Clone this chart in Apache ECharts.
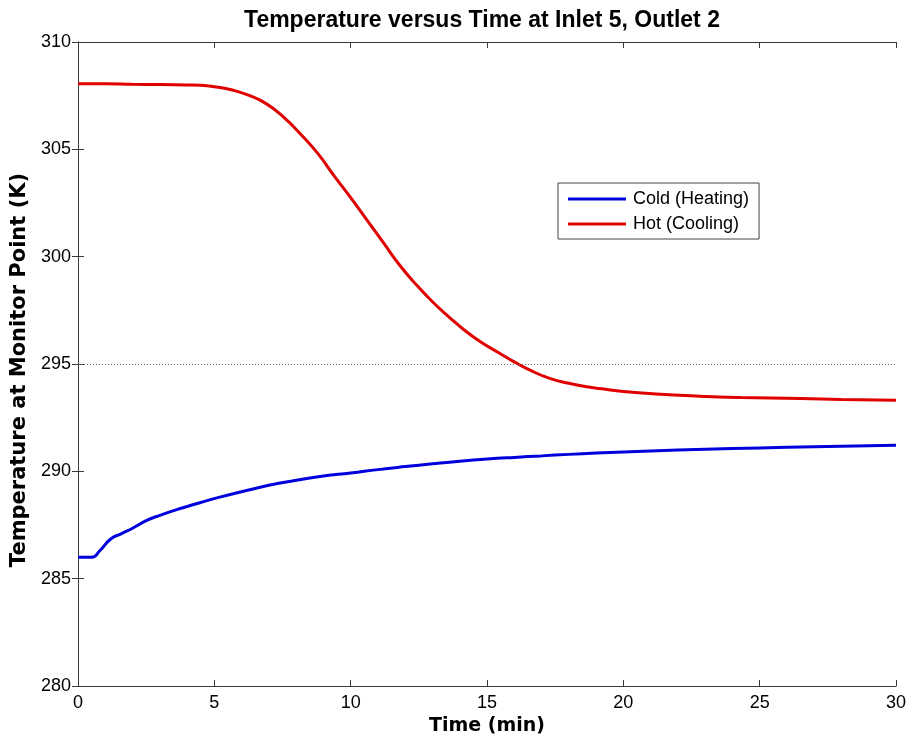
<!DOCTYPE html>
<html>
<head>
<meta charset="utf-8">
<script src="https://cdn.jsdelivr.net/npm/echarts@6/dist/echarts.min.js"></script>
<style>
  html, body { margin: 0; padding: 0; background: #fff; }
  #chart { width: 909px; height: 744px; }
</style>
</head>
<body>
<div id="chart"></div>
<script>
// Monitor point temperatures, inlet 5 / outlet 2
const timeCold = [0, 0.5, 0.8, 1.2, 1.6, 2, 2.5, 3, 3.75, 4.5, 5.2, 6, 7, 8, 9, 10, 11, 12, 13, 14, 15, 16, 17, 18, 19, 20, 22, 24, 26, 28, 30];
const tempCold = [286.0, 286.0, 286.3, 286.85, 287.1, 287.35, 287.7, 287.95, 288.27, 288.55, 288.8, 289.05, 289.35, 289.58, 289.78, 289.92, 290.08, 290.22, 290.35, 290.47, 290.57, 290.65, 290.72, 290.79, 290.85, 290.9, 290.99, 291.06, 291.12, 291.17, 291.22];

const timeHot = [0, 1, 2, 3, 4, 4.5, 5, 5.7, 6.3, 6.9, 7.5, 8.15, 8.8, 9.4, 10, 10.6, 11.2, 11.8, 12.4, 13, 13.6, 14.2, 14.8, 15.4, 16, 16.6, 17.3, 18, 18.6, 19.2, 20, 21.2, 22.8, 24.3, 26.5, 28, 30];
const tempHot = [308.05, 308.05, 308.03, 308.02, 308.0, 307.98, 307.92, 307.75, 307.5, 307.13, 306.55, 305.73, 304.8, 303.75, 302.75, 301.7, 300.65, 299.6, 298.7, 297.9, 297.2, 296.55, 296.0, 295.55, 295.1, 294.7, 294.33, 294.1, 293.95, 293.85, 293.72, 293.6, 293.5, 293.44, 293.39, 293.35, 293.31];

const refLevel = 295;
const seriesNames = ['Cold (Heating)', 'Hot (Cooling)'];
const seriesColors = ['#0000dd', '#e00000'];

const pairs = (xs, ys) => xs.map((x, i) => [x, ys[i]]);

const FONT = '"Liberation Sans", Arial, sans-serif';
const WIDE = '"DejaVu Sans", sans-serif';
const AX = '#3a3a3a';

const chart = echarts.init(document.getElementById('chart'), null, { renderer: 'canvas' });

const boxAxis = {
  axisLine: { show: true, lineStyle: { color: AX, width: 1 } },
  axisTick: { show: true, inside: true, length: 6, lineStyle: { color: AX } },
  axisLabel: { show: false },
  splitLine: { show: false }
};

chart.setOption({
  backgroundColor: '#fff',
  animation: false,
  title: {
    text: 'Temperature versus Time at Inlet 5, Outlet 2',
    left: 477,
    top: 4,
    textAlign: 'center',
    textStyle: { fontFamily: FONT, fontWeight: 'bold', fontSize: 23, color: '#000' }
  },
  legend: {
    data: seriesNames.map(n => ({ name: n, icon: 'rect' })),
    orient: 'vertical',
    left: 558,
    top: 183,
    padding: [7, 10, 6, 10],
    itemGap: 7,
    itemWidth: 58,
    itemHeight: 3,
    borderColor: '#444',
    borderWidth: 1,
    backgroundColor: '#fff',
    textStyle: { fontFamily: FONT, fontSize: 18, color: '#000', padding: [0, 0, 0, 2] }
  },
  grid: { left: 78, right: 13, top: 42, bottom: 58, containLabel: false },
  xAxis: [
    {
      type: 'value', min: 0, max: 30, interval: 5, position: 'bottom',
      name: 'Time (min)', nameLocation: 'middle', nameGap: 23,
      nameTextStyle: { fontFamily: WIDE, fontWeight: 'bold', fontSize: 19, color: '#000' },
      axisLine: { show: true, lineStyle: { color: AX, width: 1 } },
      axisTick: { show: true, inside: true, length: 6, lineStyle: { color: AX } },
      axisLabel: { fontFamily: FONT, fontSize: 18, color: '#000', margin: 8 },
      splitLine: { show: false }
    },
    Object.assign({}, boxAxis, { type: 'value', min: 0, max: 30, interval: 5, position: 'top' })
  ],
  yAxis: [
    {
      type: 'value', min: 280, max: 310, interval: 5, position: 'left',
      name: 'Temperature at Monitor Point (K)', nameLocation: 'middle', nameGap: 42,
      nameTextStyle: { fontFamily: WIDE, fontWeight: 'bold', fontSize: 21, color: '#000', padding: [0, 12, 0, 0] },
      axisLine: { show: true, lineStyle: { color: AX, width: 1 } },
      axisTick: { show: true, inside: true, length: 6, lineStyle: { color: AX } },
      axisLabel: { fontFamily: FONT, fontSize: 18, color: '#000', margin: 7 },
      splitLine: { show: false }
    },
    Object.assign({}, boxAxis, { type: 'value', min: 280, max: 310, interval: 5, position: 'right' })
  ],
  series: [
    {
      name: seriesNames[0],
      type: 'line',
      data: pairs(timeCold, tempCold),
      symbol: 'none',
      smooth: true,
      lineStyle: { color: seriesColors[0], width: 3 },
      itemStyle: { color: seriesColors[0] },
      markLine: {
        silent: true,
        symbol: 'none',
        label: { show: false },
        lineStyle: { type: [1, 2], color: '#666', width: 1 },
        data: [{ yAxis: refLevel }]
      },
      z: 3
    },
    {
      name: seriesNames[1],
      type: 'line',
      data: pairs(timeHot, tempHot),
      symbol: 'none',
      smooth: true,
      lineStyle: { color: seriesColors[1], width: 3 },
      itemStyle: { color: seriesColors[1] },
      z: 3
    }
  ]
});
</script>
</body>
</html>
